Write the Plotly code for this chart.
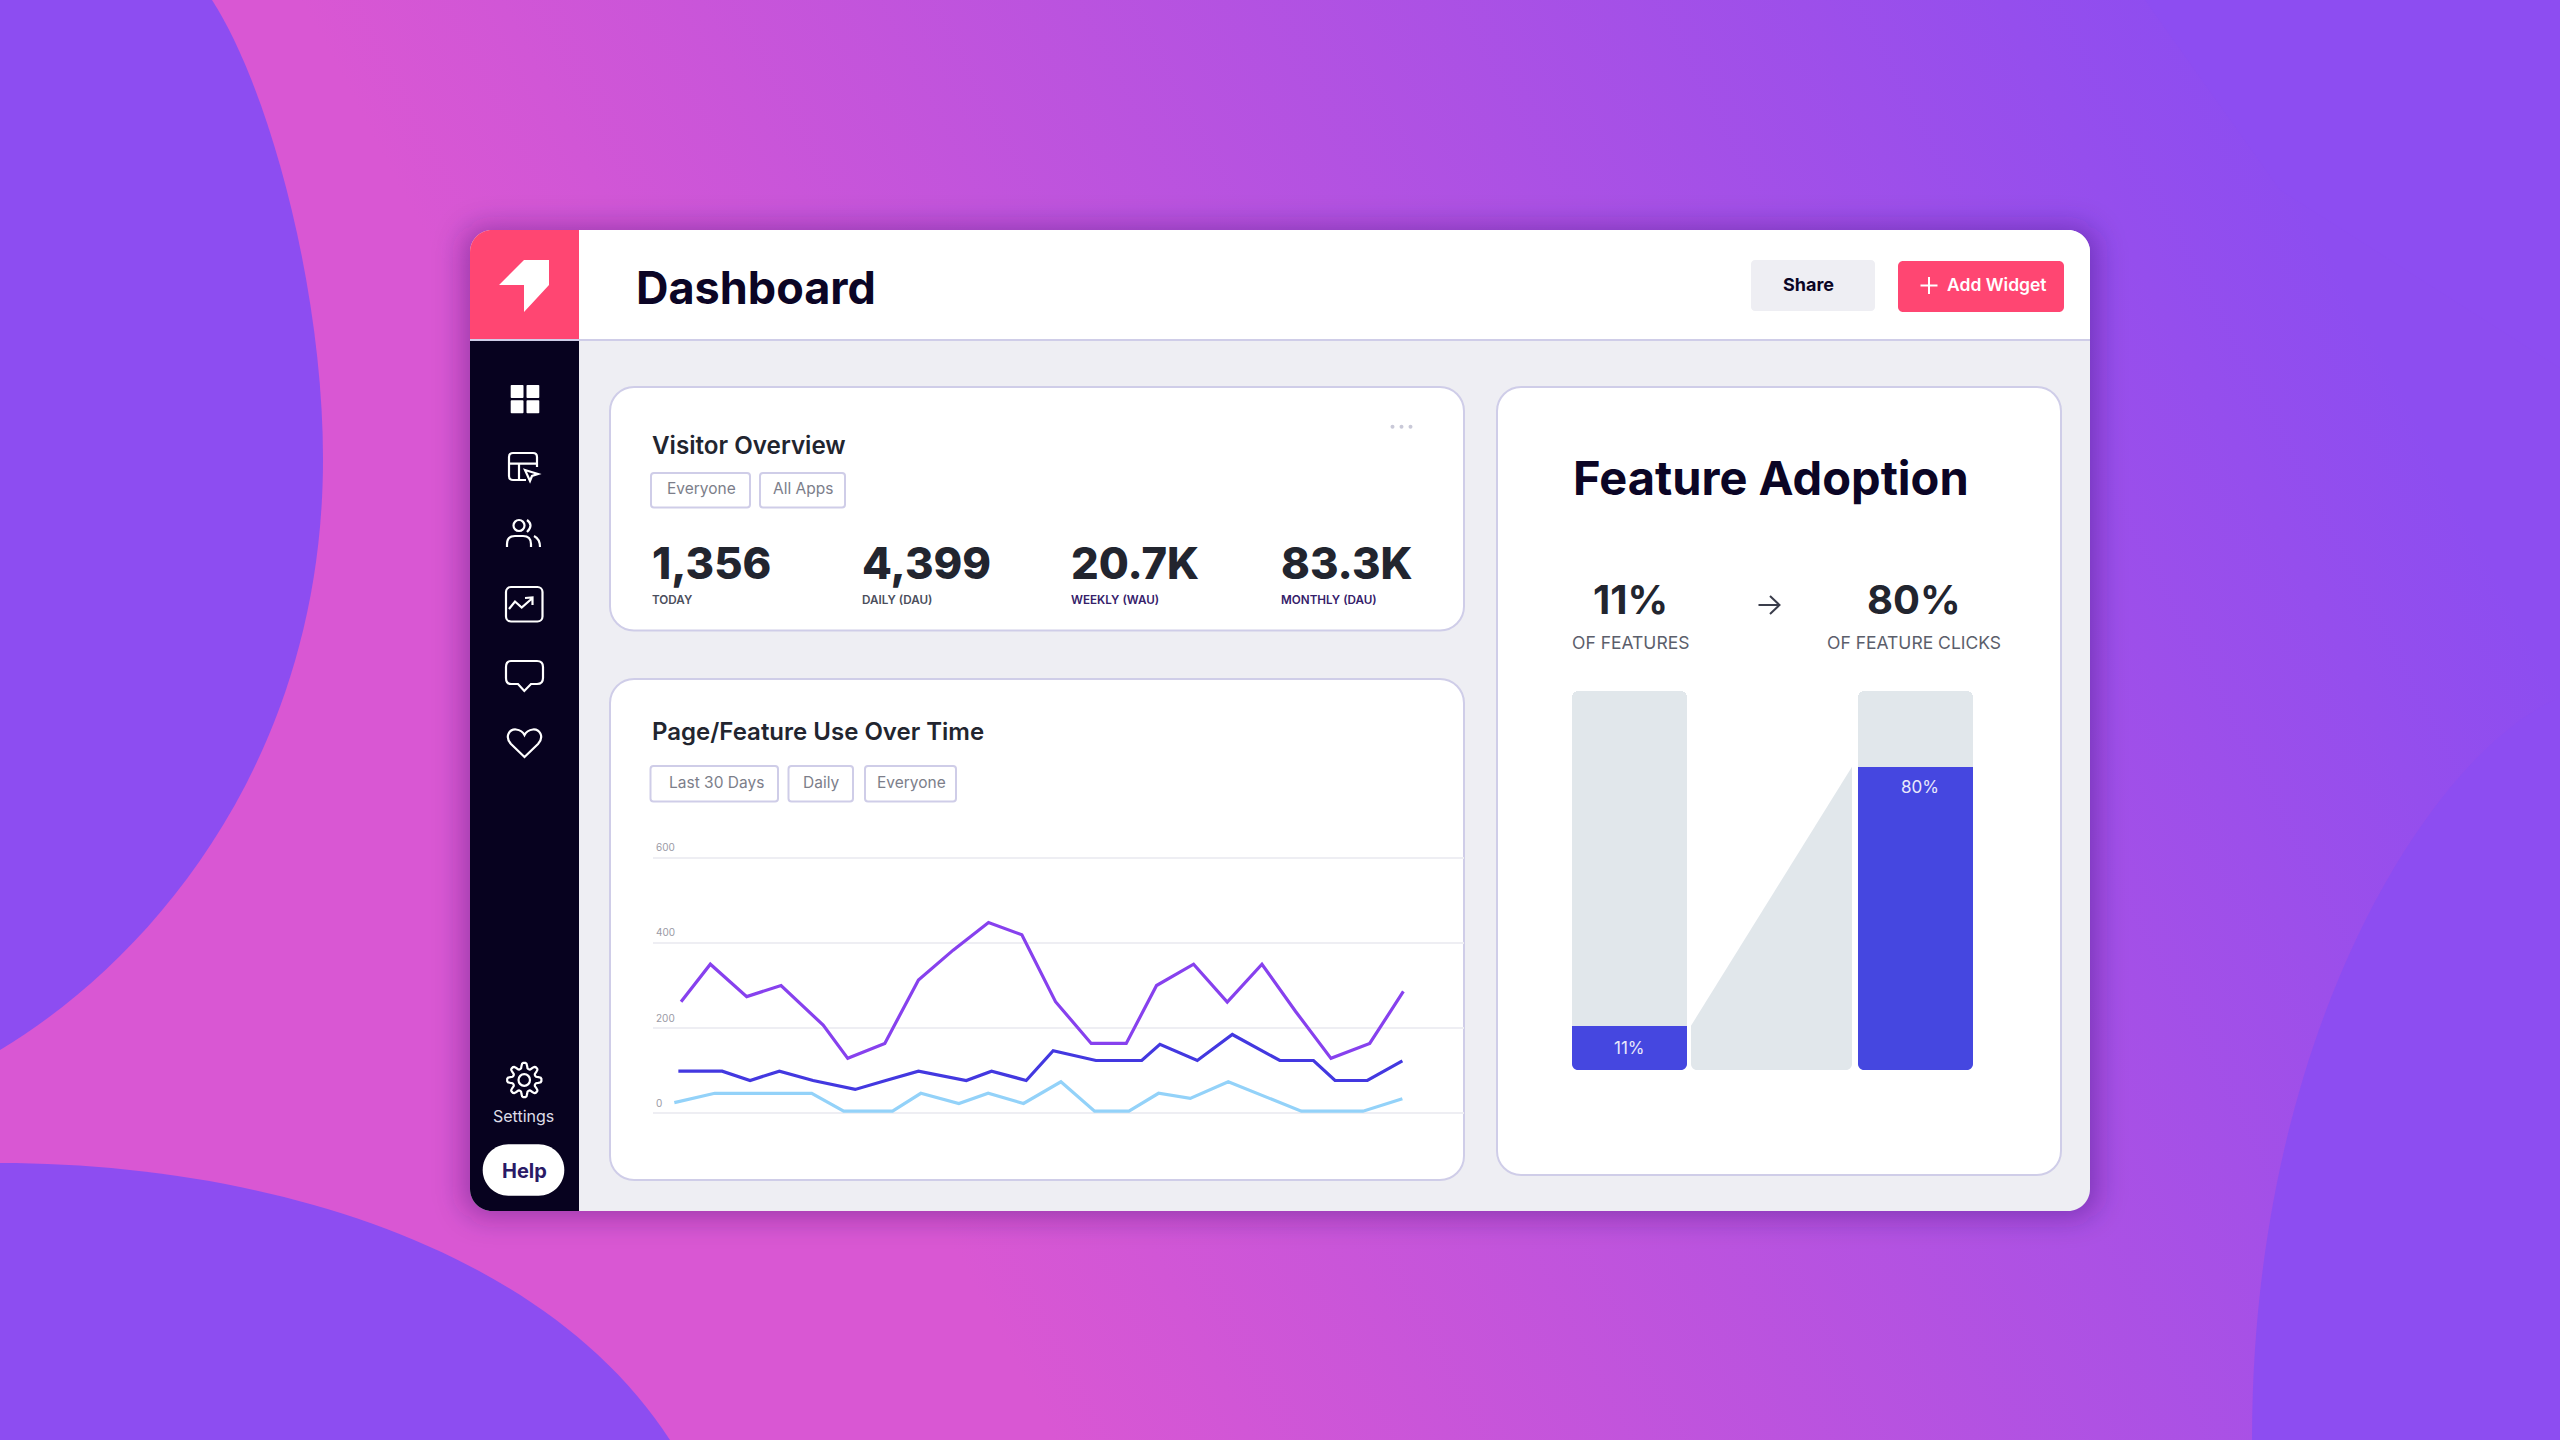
import base64
import math
import plotly.graph_objects as go

# ---------- data ----------
purple_days = [0, 0.87, 1.95, 2.97, 4.22, 4.95, 6.05, 7.05, 8.08, 9.13, 10.12, 11.12, 12.18, 13.22, 14.12, 15.22, 16.22, 17.25, 18.25, 19.3, 20.45, 21.45]
purple_vals = [262, 350, 274, 300, 207, 129, 164, 313, 383, 448, 419, 262, 164, 164, 300, 350, 261, 350, 239, 129, 164, 286]
blue_days = [-0.08, 1.22, 2.05, 2.92, 3.92, 5.17, 6.08, 7.05, 8.47, 9.22, 10.25, 11.05, 12.32, 13.68, 14.22, 15.33, 16.37, 17.78, 18.78, 19.42, 20.38, 21.42]
blue_vals = [99, 99, 77, 99, 77, 56, 77, 99, 77, 99, 77, 147, 124, 124, 162, 124, 185, 124, 124, 77, 77, 123]
light_days = [-0.2, 1.0, 3.88, 4.83, 6.28, 7.12, 8.25, 9.12, 10.17, 11.28, 12.28, 13.3, 14.18, 15.12, 16.25, 17.33, 18.42, 20.25, 21.42]
light_vals = [25, 47, 47, 5, 5, 47, 23, 47, 23, 74, 5, 5, 47, 35, 74, 39, 5, 5, 34]
y_ticks = [0, 200, 400, 600]

feature_vals = [11.7, 80]
feature_labels = ["11%", "80%"]
feature_track = [100, 100]
feature_pos = [0, 1]
connector_x = [0.2155, 0.2155, 0.7776, 0.7776]

stat_values = ["1,356", "4,399", "20.7K", "83.3K"]
stat_labels = ["TODAY", "DAILY (DAU)", "WEEKLY (WAU)", "MONTHLY (DAU)"]
stat_label_colors = ["#4b4e5c", "#4b4e5c", "#35206a", "#35206a"]

# ---------- palette ----------
INK = "#0b0525"
SLATE = "#22252f"
PINK = "#ff4672"
NAVY = "#07021f"
BODY = "#eeeef3"
BORDER = "#cfcde8"
MUTED = "#7c7e8a"
TRACK = "#e1e7eb"
INDIGO = "#4547e0"
FONT = "Inter"

# ---------- background picture (gradient, blobs, window shadow) ----------
BLOB = "#8d4df1"
svg = f"""<svg xmlns='http://www.w3.org/2000/svg' width='2560' height='1440' viewBox='0 0 2560 1440'>
<defs>
<linearGradient id='g' gradientUnits='userSpaceOnUse' x1='300' y1='0' x2='1792' y2='-780'>
<stop offset='0' stop-color='#d957d3'/><stop offset='1' stop-color='#8d4df0'/>
</linearGradient>
<filter id='b' x='-20%' y='-20%' width='140%' height='140%'><feGaussianBlur stdDeviation='14'/></filter>
</defs>
<rect width='2560' height='1440' fill='url(#g)'/>
<path fill='{BLOB}' d='M2145,0 L2280,190 L2560,368 L2560,0 Z'/>
<path fill='{BLOB}' d='M0,0 L212,0 C270,90 323,290 323,459 C323,760 150,960 0,1050 Z'/>
<path fill='{BLOB}' d='M0,1163 C250,1163 540,1240 670,1440 L0,1440 Z'/>
<path fill='{BLOB}' d='M2560,698 C2440,745 2252,1020 2252,1440 L2560,1440 Z'/>
<rect x='462' y='226' width='1636' height='992' rx='24' fill='#2a0a5a' fill-opacity='0.33' filter='url(#b)'/>
</svg>"""
bg_uri = "data:image/svg+xml;base64," + base64.b64encode(svg.encode()).decode()

shapes = []
annotations = []
K = 0.4477  # control-point inset giving a circular corner with a cubic


def rr(x0, y0, x1, y1, r=(0, 0, 0, 0)):
    """Rounded rectangle path; r = top-left, top-right, bottom-right, bottom-left."""
    tl, tr, br, bl = (r, r, r, r) if isinstance(r, (int, float)) else r
    return (f"M{x0+tl},{y0} L{x1-tr},{y0} C{x1-tr*K},{y0} {x1},{y0+tr*K} {x1},{y0+tr} "
            f"L{x1},{y1-br} C{x1},{y1-br*K} {x1-br*K},{y1} {x1-br},{y1} "
            f"L{x0+bl},{y1} C{x0+bl*K},{y1} {x0},{y1-bl*K} {x0},{y1-bl} "
            f"L{x0},{y0+tl} C{x0},{y0+tl*K} {x0+tl*K},{y0} {x0+tl},{y0} Z")


def box(x0, y0, x1, y1, r=0, fill=None, line=None, lw=2, layer="below"):
    shapes.append(dict(type="path", xref="x", yref="y", path=rr(x0, y0, x1, y1, r), layer=layer,
                       fillcolor=fill or "rgba(0,0,0,0)",
                       line=dict(color=line or "rgba(0,0,0,0)", width=lw if line else 0)))


def stroke(path, color="#ffffff", lw=2.2, fill=None, layer="below"):
    shapes.append(dict(type="path", xref="x", yref="y", path=path, layer=layer,
                       fillcolor=fill or "rgba(0,0,0,0)",
                       line=dict(color=color, width=lw)))


def solid(path, color="#ffffff", layer="below"):
    shapes.append(dict(type="path", xref="x", yref="y", path=path, layer=layer,
                       fillcolor=color, line=dict(width=0)))


def label(x, y, text, size, color, weight=400, anchor="left"):
    annotations.append(dict(xref="x", yref="y", x=x, y=y, text=text, showarrow=False, xanchor=anchor,
                            yanchor="middle", borderpad=0,
                            font=dict(family=FONT, size=size, color=color, weight=weight)))


def corner_mask(cx, cy, dx, r=6):
    """White concave piece that rounds a bottom corner of a bar."""
    solid(f"M{cx},{cy} L{cx+dx*r},{cy} C{cx+dx*r*K},{cy} {cx},{cy-r*K} {cx},{cy-r} Z", "#ffffff", layer="above")


# ---------- window ----------
box(470, 230, 2090, 1211, 22, fill=BODY)
box(579, 230, 2090, 340, (0, 22, 0, 0), fill="#ffffff")
box(470, 230, 579, 339, (22, 0, 0, 0), fill=PINK)
box(470, 340, 579, 1211, (0, 0, 0, 22), fill=NAVY)
stroke("M470,340 L2090,340", BORDER, 2)

# cards
box(610, 387, 1464, 630.5, 24, fill="#ffffff", line=BORDER)
box(610, 679, 1464, 1180, 24, fill="#ffffff", line=BORDER)
box(1497, 387, 2061, 1175, 24, fill="#ffffff", line=BORDER)

# logo
solid("M499,285 L524,260 L549,260 L549,285 L524,312 L524,285 Z")

# header
label(635, 287, "Dashboard", 45, INK, 700)
box(1751, 260, 1875, 311, 4, fill=BODY)
label(1808, 284.5, "Share", 18, INK, 700, "center")
box(1898, 261, 2064, 312, 5, fill=PINK)
stroke("M1929,277 L1929,294 M1920.5,285.5 L1937.5,285.5", "#ffffff", 2)
label(1946, 284.5, "Add Widget", 17.5, "#ffffff", 600)

# sidebar icons
for x0 in (510.7, 526.5):
    for y0 in (385, 400.2):
        box(x0, y0, x0 + 12.8, y0 + 13, 0.8, fill="#ffffff")
stroke("M526,480 L513,480 Q509,480 509,476 L509,457 Q509,453 513,453 L533,453 Q537,453 537,457 L537,467 "
       "M509,463.6 L537,463.6 M519,463.6 L519,480")
stroke("M525,470 L538,474 L532,476 L530,481 Z")
stroke("M507,547 L507,544 Q507,536 515,536 L523,536 Q531,536 531,544 L531,547")
shapes.append(dict(type="circle", xref="x", yref="y", x0=513.5, x1=524.5, y0=520, y1=531, layer="below",
                   line=dict(color="#ffffff", width=2.2), fillcolor="rgba(0,0,0,0)"))
stroke("M527,520 Q534,525 527,532")
stroke("M534,536 Q540,539 540,547")
box(506, 587, 542.5, 621.5, 5, line="#ffffff", lw=2.2)
stroke("M509,609 L515,601.5 L521.7,607.5 L532,598.5 M525,598 L532.5,597.5 L532.5,605")
stroke("M511,661 L537,661 Q543,661 543,667 L543,678 Q543,684 537,684 L531,684 L524.3,691 L518,684 "
       "L511,684 Q506,684 506,678 L506,667 Q506,661 511,661 Z")
stroke("M524.5,757 L511,744 C504,736 510,729 516,729.5 C520,730 523,732 524.5,735 "
       "C526,732 529,730 533,729.5 C539,729 545,736 538,744 Z")

# settings gear
gear = []
for i in range(97):
    t = 2 * math.pi * i / 96
    rad = 14.4 + 2.7 * max(-1, min(1, 1.6 * math.cos(8 * t)))
    gear.append(f"{'M' if i == 0 else 'L'}{524.3 + rad * math.cos(t):.1f},{1080 + rad * math.sin(t):.1f}")
stroke(" ".join(gear) + " Z")
shapes.append(dict(type="circle", xref="x", yref="y", x0=518.5, x1=530, y0=1074.2, y1=1085.8, layer="below",
                   line=dict(color="#ffffff", width=2.2), fillcolor="rgba(0,0,0,0)"))
label(523, 1115.5, "Settings", 16, "#dedde8", 400, "center")
box(482.7, 1144.3, 564.3, 1195.7, 25.7, fill="#ffffff")
label(524, 1171, "Help", 20, "#2a1a66", 700, "center")

# Visitor Overview card
label(651, 445, "Visitor Overview", 24.2, SLATE, 600)
for x0, x1, cx, text in [(651, 750, 701.5, "Everyone"), (760, 845, 803, "All Apps")]:
    box(x0, 473, x1, 507.5, 3, fill="#ffffff", line=BORDER)
    label(cx, 488.5, text, 15.5, MUTED, 400, "center")
for cx in (1392.5, 1401.5, 1410.5):
    shapes.append(dict(type="circle", xref="x", yref="y", x0=cx - 2, x1=cx + 2, y0=424.7, y1=428.7,
                       layer="below", fillcolor="#c9c9d8", line=dict(width=0)))
for x, v, t, c in zip((651, 860.5, 1070, 1280), stat_values, stat_labels, stat_label_colors):
    label(x, 562.5, v, 43.5, SLATE, 800)
    label(x, 600, t, 11.7, c, 600)

# Page/Feature card
label(651, 731.5, "Page/Feature Use Over Time", 24, SLATE, 600)
for x0, x1, cx, text in [(650.5, 778, 716, "Last 30 Days"), (788.5, 853, 821, "Daily"), (865, 956, 911.5, "Everyone")]:
    box(x0, 766, x1, 801.5, 3, fill="#ffffff", line=BORDER)
    label(cx, 782.5, text, 15.5, MUTED, 400, "center")

# Feature Adoption card
label(1571.5, 477.5, "Feature Adoption", 47, INK, 700)
label(1630, 599.5, feature_labels[0], 40, SLATE, 700, "center")
label(1914, 599.5, feature_labels[1], 40, SLATE, 700, "center")
stroke("M1758.5,605 L1779,605 M1770,596 L1779.5,605 L1770,614", "#3a3d4b", 2)
label(1630.5, 642.5, "OF FEATURES", 17.5, "#5b5e6b", 400, "center")
label(1914, 642.5, "OF FEATURE CLICKS", 17.5, "#5b5e6b", 400, "center")

# bar corner rounding at the bottom
for cx, dx in [(1572, 1), (1687, -1), (1691, 1), (1852, -1), (1858, 1), (1973, -1)]:
    corner_mask(cx, 1070, dx)

# ---------- figure ----------
fig = go.Figure()

# canvas axes (xaxis/yaxis) carry the page furniture; an invisible marker keeps the subplot alive
fig.add_trace(go.Scatter(x=[0], y=[0], xaxis="x", yaxis="y", mode="markers", marker=dict(opacity=0),
                         hoverinfo="skip", showlegend=False))

for days, vals, col in [(purple_days, purple_vals, "#8741ee"), (blue_days, blue_vals, "#4338e0"), (light_days, light_vals, "#93d2f9")]:
    fig.add_trace(go.Scatter(x=days, y=vals, xaxis="x2", yaxis="y2", mode="lines", showlegend=False,
                             line=dict(color=col, width=3.2), hoverinfo="x+y"))

fig.add_trace(go.Bar(x=feature_pos, y=feature_track, xaxis="x3", yaxis="y3", width=0.4015, showlegend=False,
                     marker=dict(color=TRACK, cornerradius=6, line=dict(width=0)), hoverinfo="skip"))
fig.add_trace(go.Bar(x=feature_pos, y=feature_vals, xaxis="x3", yaxis="y3", width=0.4015, showlegend=False,
                     marker=dict(color=INDIGO, line=dict(width=0))))
fig.add_trace(go.Scatter(x=connector_x, y=[0, feature_vals[0], feature_vals[1], 0], xaxis="x3", yaxis="y3",
                         mode="lines", fill="toself", fillcolor=TRACK, line=dict(width=0), showlegend=False,
                         hoverinfo="skip"))

annotations.append(dict(xref="x3", yref="y3", x=feature_pos[0], y=feature_vals[0] / 2, text=feature_labels[0],
                        showarrow=False, font=dict(family=FONT, size=17, color="#e9e9fb")))
annotations.append(dict(xref="x3", yref="y3", x=feature_pos[1], y=feature_vals[1], yshift=-20, xshift=4,
                        text=feature_labels[1], showarrow=False,
                        font=dict(family=FONT, size=17, color="#e9e9fb")))

W, H = 2560, 1440
PX_PER_UNIT = (1113.3 - 857.7) / 600
PAD_LOW, PAD_TOP = 12, 45  # extra axis units so plotly keeps the gridlines and labels at 0 and 600
fig.update_layout(
    width=W, height=H, autosize=False, margin=dict(l=0, r=0, t=0, b=0),
    paper_bgcolor="rgba(0,0,0,0)", plot_bgcolor="rgba(0,0,0,0)",
    showlegend=False, barmode="overlay", bargap=0,
    images=[dict(source=bg_uri, xref="paper", yref="paper", x=0, y=1, sizex=1, sizey=1,
                 xanchor="left", yanchor="top", sizing="stretch", layer="below")],
    shapes=shapes, annotations=annotations,
    xaxis=dict(domain=[0, 1], range=[0, W], visible=False, fixedrange=True),
    yaxis=dict(domain=[0, 1], range=[H, 0], visible=False, fixedrange=True),
    xaxis2=dict(domain=[653 / W, 1464 / W], range=[-0.833, 23.25], anchor="y2", visible=False, fixedrange=True),
    yaxis2=dict(domain=[1 - (1113.3 + PAD_LOW * PX_PER_UNIT) / H, 1 - (857.7 - PAD_TOP * PX_PER_UNIT) / H],
                range=[-PAD_LOW, 600 + PAD_TOP], anchor="x2", fixedrange=True,
                tickvals=y_ticks, ticktext=[str(v) for v in y_ticks], showgrid=True, gridcolor="#eeeef3", gridwidth=2,
                zeroline=False, showline=False, ticks="", ticklabelposition="inside", ticklabelshift=-10,
                tickfont=dict(family=FONT, size=10, color="#9a9aa5")),
    xaxis3=dict(domain=[1572 / W, 1973 / W], range=[-0.2, 1.2], anchor="y3", visible=False, fixedrange=True),
    yaxis3=dict(domain=[1 - 1070 / H, 1 - 691 / H], range=[0, 100], anchor="x3", visible=False, fixedrange=True),
)

fig.write_html("out.html", config=dict(displayModeBar=False),
               post_script="document.body.style.margin='0';document.documentElement.style.overflow='hidden';")
